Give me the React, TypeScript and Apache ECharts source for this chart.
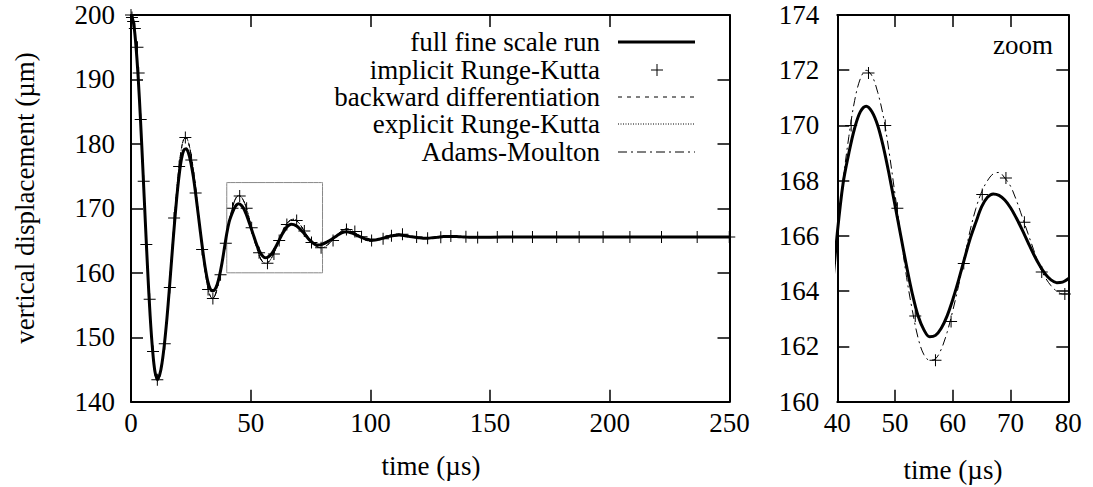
import React, { useEffect, useRef } from "react";
import * as echarts from "echarts";

// ---- data ----
const fullTime = [0,1,2,3,4,5,6,7,8,9,10,11,12,13,14,15,16,17,18,19,20,21,22,23,24,25,26,27,28,29,30,31,32,33,34,35,36,37,38,39,40,41,42,43,44,45,46,47,48,49,50,51,52,53,54,55,56,57,58,59,60,61,62,63,64,65,66,67,68,69,70,71,72,73,74,75,76,77,78,79,80,82,84,86,88,90,92,94,96,98,100,102,104,106,108,110,112,114,116,118,120,122,124,126,128,130,132,134,136,138,140,144,148,155,170,200,250];

const fullDisp = [200,198.9,195.5,190.3,183.5,175.8,167.8,160.1,153.3,148.1,144.7,143.6,144.2,146.1,149.1,152.9,157.4,162.2,166.9,171.2,174.8,177.5,179.0,179.25,178.6,177.1,175.0,172.3,169.3,166.3,163.4,160.8,158.8,157.6,157.2,157.4,158.2,159.6,161.5,163.8,166.1,167.9,169.0,169.9,170.5,170.7,170.5,170.0,169.2,168.2,167.1,166.0,164.9,163.9,163.1,162.6,162.35,162.4,162.66,163.1,163.7,164.4,165.16,165.9,166.5,167.06,167.4,167.52,167.47,167.3,167.02,166.65,166.23,165.78,165.34,164.95,164.63,164.41,164.31,164.33,164.45,164.8,165.25,165.75,166.2,166.35,166.2,165.9,165.55,165.25,165.1,165.1,165.25,165.45,165.65,165.8,165.85,165.8,165.65,165.55,165.45,165.38,165.38,165.45,165.52,165.6,165.65,165.65,165.62,165.58,165.55,165.5,165.52,165.55,165.55,165.55,165.55];

// backward differentiation, explicit Runge-Kutta and Adams-Moulton lie on top of each other
const methodDisp = [200,198.85,195.5,190.2,183.4,175.6,167.6,159.8,153.0,147.7,144.35,143.2,143.9,145.9,149.0,153.1,157.8,162.9,167.8,172.4,176.2,179.1,180.7,180.95,180.2,178.5,176.1,173.1,169.7,166.25,162.96,160.1,157.9,156.5,156.0,156.4,157.6,159.3,161.4,163.8,166.1,168.0,169.6,170.9,171.7,172.0,171.8,171.2,170.3,169.0,167.5,166.0,164.5,163.3,162.3,161.7,161.5,161.55,161.9,162.5,163.3,164.2,165.2,166.2,167.0,167.6,168.0,168.25,168.3,168.1,167.8,167.3,166.7,166.1,165.5,164.9,164.5,164.2,164.0,163.9,163.9,164.3,165.0,165.8,166.5,166.8,166.6,166.1,165.6,165.1,164.9,165.0,165.2,165.5,165.8,165.95,166.0,165.9,165.75,165.55,165.4,165.33,165.35,165.42,165.5,165.6,165.7,165.7,165.65,165.6,165.55,165.5,165.52,165.55,165.55,165.55,165.55];
const bdfDisp = methodDisp;
const explicitRkDisp = methodDisp;
const adamsMoultonDisp = methodDisp;

const implicitRkTime = [0,0.4,0.9,1.6,2.7,3.2,4.05,5.3,6.4,7.8,9.2,11.0,14.1,16.2,18.0,20.1,22.7,25.2,27.0,29.7,32.2,34.2,37.4,39.6,42.4,45.4,48.3,50.4,53.5,57.0,59.7,61.9,65.1,69.2,72.4,75.4,79.4,84.4,90.0,93.5,96.3,100.5,105.3,108.8,113.4,119.3,123.9,129.4,133.6,139.9,144.8,153.0,159.4,167.7,177.8,187.2,197.2,208.4,221.6,236.5,249.9];
const implicitRkDisp = [200,199.6,199.0,197.9,195.0,191.0,183.8,174.2,164.4,155.9,147.8,143.4,149.0,157.7,168.5,176.5,181.0,177.5,172.4,163.6,157.4,156.0,159.7,164.6,170.0,171.9,170.0,167.0,163.1,161.5,162.9,165.0,167.5,168.1,166.5,164.7,163.9,165.0,166.7,166.4,165.6,165.0,165.3,165.75,166.0,165.55,165.35,165.5,165.72,165.6,165.48,165.55,165.58,165.55,165.55,165.55,165.55,165.55,165.55,165.55,165.55];

const zoomBoxTime = [40, 80, 80, 40, 40];
const zoomBoxDisp = [160, 160, 174, 174, 160];

const legendLabels = [
  "full fine scale run",
  "implicit Runge-Kutta",
  "backward differentiation",
  "explicit Runge-Kutta",
  "Adams-Moulton",
];

const mainXTicks = { min: 0, max: 250, interval: 50 };
const mainYTicks = { min: 140, max: 200, interval: 10 };
const zoomXTicks = { min: 40, max: 80, interval: 10 };
const zoomYTicks = { min: 160, max: 174, interval: 2 };

const FONT = "Liberation Serif";
const FS = 27;

function pairs(xs: number[], ys: number[]) {
  return xs.map((x, i) => [x, ys[i]]);
}

const PLUS = "path://M5.5,0 H6.5 V5.5 H12 V6.5 H6.5 V12 H5.5 V6.5 H0 V5.5 H5.5 Z";

function xAxis(grid: number, t: any, pos: "top" | "bottom", labels: boolean) {
  return {
    type: "value",
    gridIndex: grid,
    min: t.min,
    max: t.max,
    interval: t.interval,
    position: pos,
    axisLine: { show: true, onZero: false, lineStyle: { color: "#000", width: 2 } },
    axisTick: { show: true, inside: true, length: 12, lineStyle: { color: "#000", width: 1.5 } },
    axisLabel: {
      show: labels,
      fontFamily: FONT,
      fontSize: FS,
      color: "#000",
      margin: 8,
      showMinLabel: true,
      showMaxLabel: true,
    },
    splitLine: { show: false },
  };
}

function yAxis(grid: number, t: any, pos: "left" | "right", labels: boolean, margin: number) {
  return {
    type: "value",
    gridIndex: grid,
    min: t.min,
    max: t.max,
    interval: t.interval,
    position: pos,
    axisLine: { show: true, onZero: false, lineStyle: { color: "#000", width: 2 } },
    axisTick: { show: true, inside: true, length: 12, lineStyle: { color: "#000", width: 1.5 } },
    axisLabel: {
      show: labels,
      fontFamily: FONT,
      fontSize: FS,
      color: "#000",
      margin,
      showMinLabel: true,
      showMaxLabel: true,
    },
    splitLine: { show: false },
  };
}

function lineSeries(name: string, xi: number, data: any, style: any) {
  return {
    name,
    type: "line",
    xAxisIndex: xi,
    yAxisIndex: xi,
    data,
    showSymbol: false,
    symbol: "none",
    smooth: 0.35,
    lineStyle: style,
    silent: true,
    clip: true,
  };
}

function txt(text: string, x: number, y: number, align: string, extra: any = {}) {
  return {
    type: "text",
    x,
    y,
    ...extra,
    style: {
      text,
      fontFamily: FONT,
      fontSize: FS,
      fill: "#000",
      textAlign: align,
      textVerticalAlign: "middle",
    },
  };
}

export default function App() {
  const ref = useRef<HTMLDivElement>(null);

  useEffect(() => {
    if (!ref.current) return;
    const chart = echarts.init(ref.current, undefined, { renderer: "svg" });

    const full = pairs(fullTime, fullDisp);
    const bdf = pairs(fullTime, bdfDisp);
    const erk = pairs(fullTime, explicitRkDisp);
    const am = pairs(fullTime, adamsMoultonDisp);
    const irk = pairs(implicitRkTime, implicitRkDisp);
    const box = pairs(zoomBoxTime, zoomBoxDisp);

    const legendY = [42, 70, 97, 124, 152];
    const lx1 = 618;
    const lx2 = 695;

    const graphic: any[] = [];
    legendLabels.forEach((t, i) => graphic.push(txt(t, 600, legendY[i], "right")));
    graphic.push({ type: "line", shape: { x1: lx1, y1: legendY[0], x2: lx2, y2: legendY[0] }, style: { stroke: "#000", lineWidth: 3 } });
    graphic.push({ type: "line", shape: { x1: 651, y1: legendY[1], x2: 663, y2: legendY[1] }, style: { stroke: "#000", lineWidth: 1 } });
    graphic.push({ type: "line", shape: { x1: 657, y1: legendY[1] - 6, x2: 657, y2: legendY[1] + 6 }, style: { stroke: "#000", lineWidth: 1 } });
    graphic.push({ type: "line", shape: { x1: lx1, y1: legendY[2], x2: lx2, y2: legendY[2] }, style: { stroke: "#000", lineWidth: 1, lineDash: [4, 5] } });
    graphic.push({ type: "line", shape: { x1: lx1, y1: legendY[3], x2: lx2, y2: legendY[3] }, style: { stroke: "#000", lineWidth: 1, lineDash: [1, 1.5] } });
    graphic.push({ type: "line", shape: { x1: lx1, y1: legendY[4], x2: lx2, y2: legendY[4] }, style: { stroke: "#000", lineWidth: 1, lineDash: [9, 4, 2, 4] } });

    graphic.push(txt("vertical displacement (µm)", 25, 198, "center", { rotation: Math.PI / 2 }));
    graphic.push(txt("time (µs)", 431, 466, "center"));
    graphic.push(txt("time (µs)", 953, 470, "center"));
    graphic.push(txt("zoom", 1053, 45, "right"));

    chart.setOption({
      animation: false,
      backgroundColor: "#fff",
      grid: [
        { left: 131, top: 15, width: 598.5, height: 386.7 },
        { left: 837.3, top: 15, width: 231, height: 386.7 },
      ],
      xAxis: [
        xAxis(0, mainXTicks, "bottom", true),
        xAxis(0, mainXTicks, "top", false),
        xAxis(1, zoomXTicks, "bottom", true),
        xAxis(1, zoomXTicks, "top", false),
      ],
      yAxis: [
        yAxis(0, mainYTicks, "left", true, 16),
        yAxis(0, mainYTicks, "right", false, 16),
        yAxis(1, zoomYTicks, "left", true, 18),
        yAxis(1, zoomYTicks, "right", false, 18),
      ],
      series: [
        lineSeries("zoom box", 0, box, { color: "#888", width: 1 }),
        lineSeries(legendLabels[0], 0, full, { color: "#000", width: 3 }),
        {
          name: legendLabels[1],
          type: "scatter",
          xAxisIndex: 0,
          yAxisIndex: 0,
          data: irk,
          symbol: PLUS,
          symbolSize: 12,
          itemStyle: { color: "#000", opacity: 1 },
          silent: true,
        },
        lineSeries(legendLabels[2], 0, bdf, { color: "#000", width: 1, type: [4, 5] }),
        lineSeries(legendLabels[3], 0, erk, { color: "#000", width: 1, type: [1, 1.5] }),
        lineSeries(legendLabels[4], 0, am, { color: "#000", width: 1, type: [9, 4, 2, 4] }),
        lineSeries("full zoom", 2, full, { color: "#000", width: 3 }),
        {
          name: "implicit zoom",
          type: "scatter",
          xAxisIndex: 2,
          yAxisIndex: 2,
          data: irk.filter((p) => p[0] >= 40 && p[0] <= 80),
          symbol: PLUS,
          symbolSize: 12,
          itemStyle: { color: "#000", opacity: 1 },
          silent: true,
        },
        lineSeries("am zoom", 2, am, { color: "#000", width: 1, type: [9, 4, 2, 4] }),
      ],
      graphic,
    });

    return () => chart.dispose();
  }, []);

  return (
    <div
      ref={ref}
      style={{ position: "fixed", left: 0, top: 0, width: 1093, height: 487, background: "#fff" }}
    />
  );
}
